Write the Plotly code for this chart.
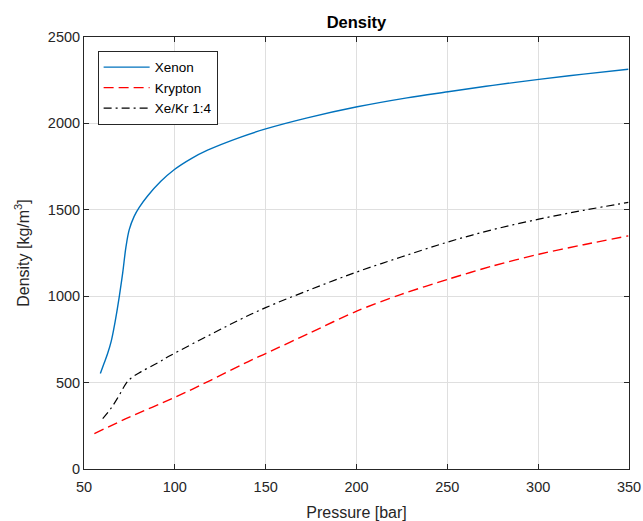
import plotly.graph_objects as go

# Xenon
xe_p = [59.0, 61.0, 63.0, 65.0, 66.6, 68.0, 69.4, 71.3, 73.1, 74.9, 77.6, 80.4, 85.0,
        92.3, 99.6, 108.8, 118.0, 136.3, 150.0, 172.9, 200.4, 227.8, 250.4, 275.0, 300.4, 325.0, 349.6]
xe_rho = [552, 610, 668, 740, 822, 905, 996, 1135, 1285, 1385, 1462, 1514, 1580,
          1665, 1732, 1795, 1845, 1921, 1968, 2032, 2096, 2148, 2183, 2220, 2255, 2285, 2313]

# Krypton
kr_p = [55.7, 75.0, 100.5, 120.0, 141.8, 150.0, 175.0, 200.4, 225.0, 250.4, 275.0, 300.4, 325.0, 349.6]
kr_rho = [205, 300, 417, 515, 629, 668, 791, 915, 1012, 1098, 1175, 1243, 1298, 1349]

# Xe/Kr 1:4
mix_p = [60.3, 64.8, 69.4, 73.1, 75.8, 81.3, 90.5, 97.8, 120.0, 136.3, 150.0, 175.0,
         200.4, 225.0, 250.4, 275.0, 300.4, 325.0, 349.6]
mix_rho = [292, 350, 427, 494, 525, 562, 614, 658, 780, 867, 934, 1040,
           1141, 1228, 1314, 1385, 1446, 1497, 1543]

x_ticks = [50, 100, 150, 200, 250, 300, 350]
y_ticks = [0, 500, 1000, 1500, 2000, 2500]

FONT = "Liberation Sans, Arial, Helvetica, sans-serif"
AX = "#262626"
GRID = "#dfdfdf"

fig = go.Figure()
fig.add_trace(go.Scatter(x=xe_p, y=xe_rho, mode="lines", name="Xenon",
                         line=dict(color="#0072BD", width=1.4, shape="spline", smoothing=1.0)))
fig.add_trace(go.Scatter(x=kr_p, y=kr_rho, mode="lines", name="Krypton",
                         line=dict(color="#FF0000", width=1.4, dash="10px,5px", shape="spline", smoothing=0.8)))
fig.add_trace(go.Scatter(x=mix_p, y=mix_rho, mode="lines", name="Xe/Kr 1:4",
                         line=dict(color="#000000", width=1.2, dash="8px,4px,2px,4px", shape="spline", smoothing=1.0)))

axis_common = dict(
    showline=True, linecolor=AX, linewidth=1, mirror="ticks",
    ticks="inside", ticklen=5, tickcolor=AX, tickwidth=1,
    showgrid=True, gridcolor=GRID, gridwidth=1, zeroline=False,
    tickfont=dict(family=FONT, size=14.5, color=AX),
    automargin=False,
)

fig.update_layout(
    width=643, height=521,
    margin=dict(l=84, r=14, t=37, b=52),
    paper_bgcolor="white", plot_bgcolor="white",
    font=dict(family=FONT, color=AX),
    title=dict(text="<b>Density</b>", x=0.5, xref="paper", xanchor="center",
               y=1, yref="paper", yanchor="bottom", pad=dict(b=9),
               font=dict(family=FONT, size=16.5, color="#000000")),
    xaxis=dict(range=[50, 350], tickvals=x_ticks, ticktext=[str(v) for v in x_ticks],
               ticklabelstandoff=5,
               title=dict(text="Pressure [bar]", font=dict(family=FONT, size=16, color=AX), standoff=16),
               **axis_common),
    yaxis=dict(range=[0, 2500], tickvals=y_ticks, ticktext=[str(v) for v in y_ticks],
               title=dict(text="Density [kg/m<sup>3</sup>]", font=dict(family=FONT, size=16, color=AX), standoff=14),
               **axis_common),
    legend=dict(x=0.025, y=0.968, xanchor="left", yanchor="top",
                bgcolor="white", bordercolor=AX, borderwidth=1,
                font=dict(family=FONT, size=13.5, color="#000000"),
                tracegroupgap=0, itemwidth=46),
    showlegend=True,
)

fig.write_html("out.html")
